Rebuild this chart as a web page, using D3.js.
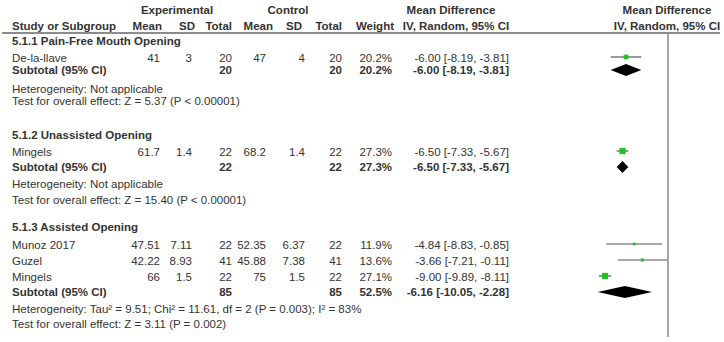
<!DOCTYPE html>
<html>
<head>
<meta charset="utf-8">
<script src="https://cdn.jsdelivr.net/npm/d3@7"></script>
<style>
  body { margin: 0; background: #fff; }
  svg { display: block; }
  text { font-family: "Liberation Sans", Arial, sans-serif; font-size: 11.5px; fill: #333; }
  .b { font-weight: bold; }
</style>
</head>
<body>
<svg width="724" height="342"></svg>
<script>
// study level data
var studies = ["De-la-llave", "Mingels", "Munoz 2017", "Guzel", "Mingels"];
var eMean = ["41", "61.7", "47.51", "42.22", "66"];
var eSD = ["3", "1.4", "7.11", "8.93", "1.5"];
var eTotal = [20, 22, 22, 41, 22];
var cMean = ["47", "68.2", "52.35", "45.88", "75"];
var cSD = ["4", "1.4", "6.37", "7.38", "1.5"];
var cTotal = [20, 22, 22, 41, 22];
var weight = [20.2, 27.3, 11.9, 13.6, 27.1];
var md = [-6.00, -6.50, -4.84, -3.66, -9.00];
var mdLo = [-8.19, -7.33, -8.83, -7.21, -9.89];
var mdHi = [-3.81, -5.67, -0.85, -0.11, -8.11];

// subgroup data
var groups = ["5.1.1 Pain-Free Mouth Opening", "5.1.2 Unassisted Opening", "5.1.3 Assisted Opening"];
var subE = [20, 22, 85];
var subC = [20, 22, 85];
var subWeight = [20.2, 27.3, 52.5];
var subMd = [-6.00, -6.50, -6.16];
var subLo = [-8.19, -7.33, -10.05];
var subHi = [-3.81, -5.67, -2.28];
var hetText = [
  "Heterogeneity: Not applicable",
  "Heterogeneity: Not applicable",
  "Heterogeneity: Tau\u00b2 = 9.51; Chi\u00b2 = 11.61, df = 2 (P = 0.003); I\u00b2 = 83%"
];
var testText = [
  "Test for overall effect: Z = 5.37 (P < 0.00001)",
  "Test for overall effect: Z = 15.40 (P < 0.00001)",
  "Test for overall effect: Z = 3.11 (P = 0.002)"
];

var svg = d3.select("svg");
var f2 = v => v.toFixed(2);
var ciText = (m, l, h) => f2(m) + " [" + f2(l) + ", " + f2(h) + "]";

// row layout (y centre of each table row)
var rowKeys = ["h1", "h2",
  "g0", "s0", "t0", "het0", "test0",
  "g1", "s1", "t1", "het1", "test1",
  "g2", "s2", "s3", "s4", "t2", "het2", "test2"];
var rowPos = [10, 26,
  41, 58, 70, 89, 101,
  135, 152, 167, 184, 200,
  227, 245, 261, 277, 292, 309, 324];
var y = d3.scaleOrdinal().domain(rowKeys).range(rowPos);

// forest plot scale
var x = d3.scaleLinear().domain([-10, 10]).range([598, 738]);
var boxSize = d3.scaleLinear().domain([0, 27.3]).range([0, 6.3]);

// column anchors (right aligned)
var col = {study: 12, eMean: 160, eSD: 192, eTotal: 232, cMean: 266, cSD: 305, cTotal: 342, weight: 392, md: 509};

function txt(xp, yp, s, anchor, bold) {
  svg.append("text")
    .attr("x", xp).attr("y", yp)
    .attr("dy", "0.35em")
    .attr("text-anchor", anchor || "end")
    .attr("class", bold ? "b" : null)
    .text(s);
}

// headers
txt(177, y("h1"), "Experimental", "middle", true);
txt(288, y("h1"), "Control", "middle", true);
txt(451, y("h1"), "Mean Difference", "middle", true);
txt(667, y("h1"), "Mean Difference", "middle", true);
txt(col.study, y("h2"), "Study or Subgroup", "start", true);
txt(162, y("h2"), "Mean", "end", true);
txt(195, y("h2"), "SD", "end", true);
txt(232, y("h2"), "Total", "end", true);
txt(273, y("h2"), "Mean", "end", true);
txt(302, y("h2"), "SD", "end", true);
txt(342, y("h2"), "Total", "end", true);
txt(394, y("h2"), "Weight", "end", true);
txt(456, y("h2"), "IV, Random, 95% CI", "middle", true);
txt(667, y("h2"), "IV, Random, 95% CI", "middle", true);

svg.append("line")
  .attr("x1", 2).attr("x2", 720)
  .attr("y1", 33).attr("y2", 33)
  .attr("stroke", "#666").attr("stroke-width", 1.5);

// zero line
svg.append("line")
  .attr("x1", x(0)).attr("x2", x(0))
  .attr("y1", 33).attr("y2", 337)
  .attr("stroke", "#888").attr("stroke-width", 1.5);

// subgroup headings, subtotals, footers
groups.forEach((g, i) => {
  txt(col.study, y("g" + i), g, "start", true);
  var ty = y("t" + i);
  txt(col.study, ty, "Subtotal (95% CI)", "start", true);
  txt(col.eTotal, ty, subE[i], "end", true);
  txt(col.cTotal, ty, subC[i], "end", true);
  txt(col.weight, ty, subWeight[i].toFixed(1) + "%", "end", true);
  txt(col.md, ty, ciText(subMd[i], subLo[i], subHi[i]), "end", true);
  txt(col.study, y("het" + i), hetText[i], "start");
  txt(col.study, y("test" + i), testText[i], "start");

  var h = 6;
  svg.append("path")
    .attr("d", d3.line()([
      [x(subLo[i]), ty], [x(subMd[i]), ty - h],
      [x(subHi[i]), ty], [x(subMd[i]), ty + h]
    ]) + "Z")
    .attr("fill", "#000");
});

// studies
studies.forEach((s, i) => {
  var sy = y("s" + i);
  txt(col.study, sy, s, "start");
  txt(col.eMean, sy, eMean[i]);
  txt(col.eSD, sy, eSD[i]);
  txt(col.eTotal, sy, eTotal[i]);
  txt(col.cMean, sy, cMean[i]);
  txt(col.cSD, sy, cSD[i]);
  txt(col.cTotal, sy, cTotal[i]);
  txt(col.weight, sy, weight[i].toFixed(1) + "%");
  txt(col.md, sy, ciText(md[i], mdLo[i], mdHi[i]));

  var py = sy - 1;
  svg.append("line")
    .attr("x1", x(mdLo[i])).attr("x2", x(mdHi[i]))
    .attr("y1", py).attr("y2", py)
    .attr("stroke", "#555").attr("stroke-width", 1.2);
  var b = boxSize(weight[i]);
  svg.append("rect")
    .attr("x", x(md[i]) - b / 2).attr("y", py - b / 2)
    .attr("width", b).attr("height", b)
    .attr("fill", "#22c022");
});
</script>
</body>
</html>
